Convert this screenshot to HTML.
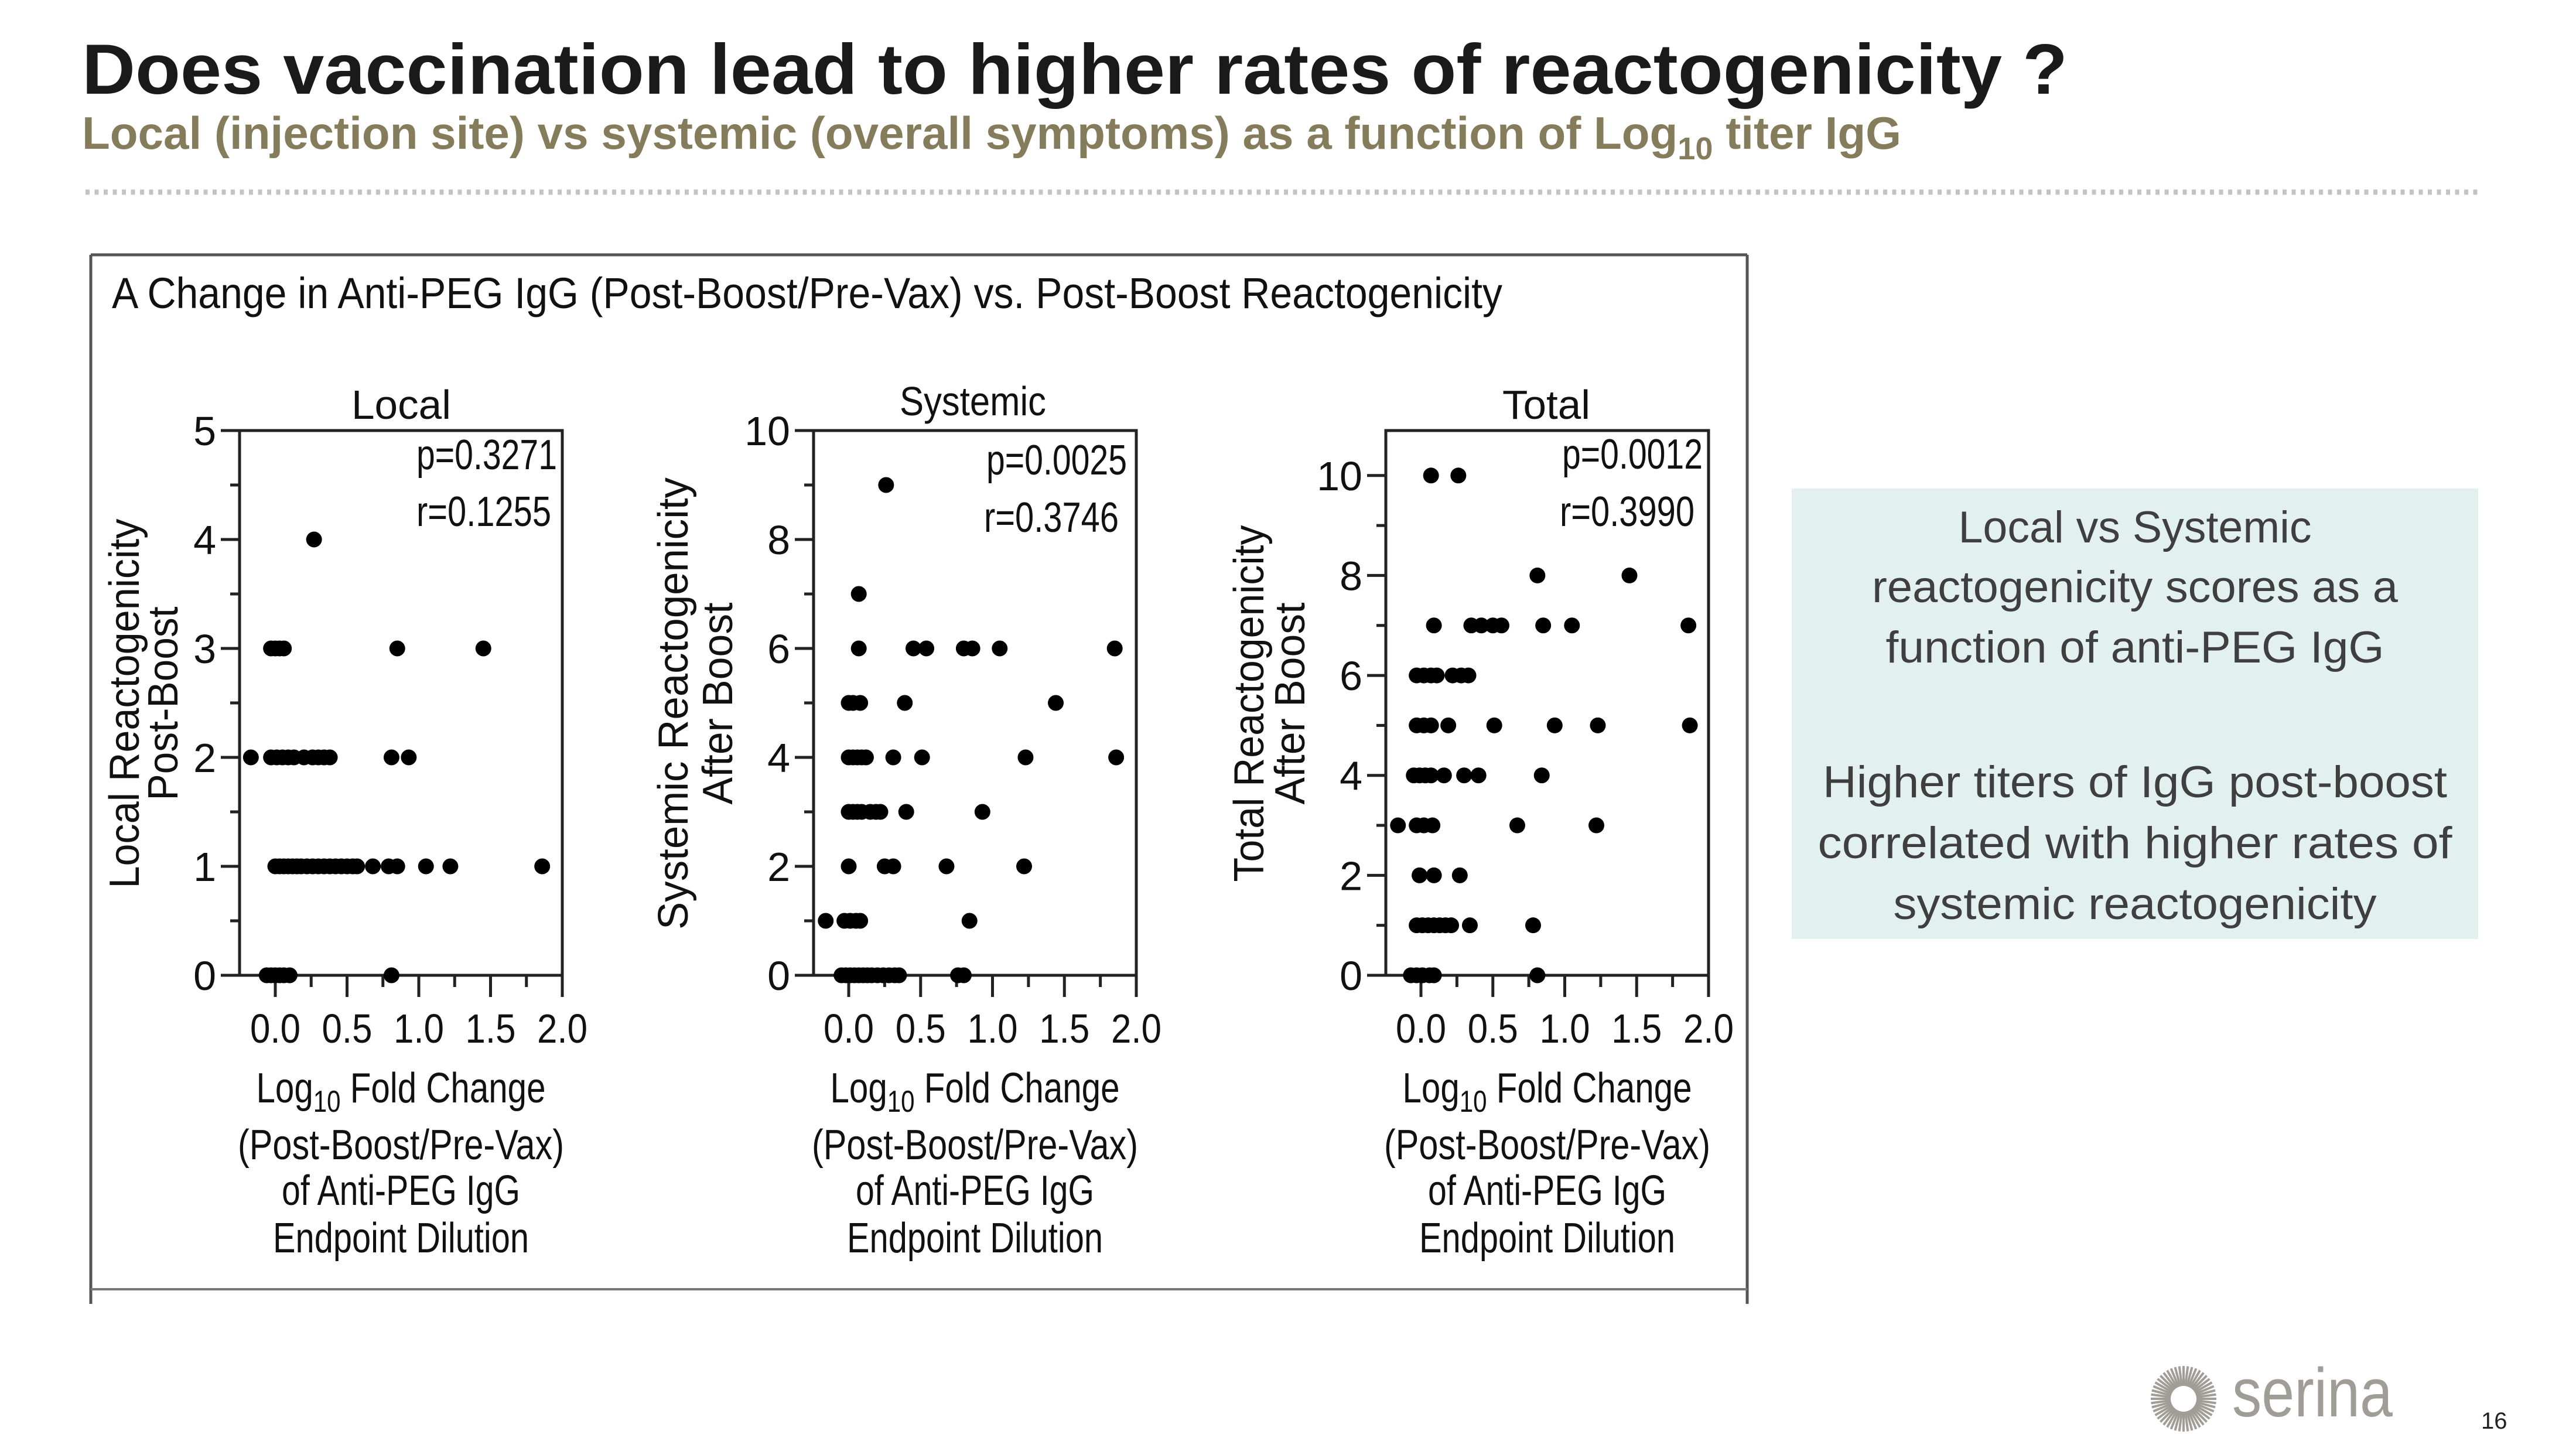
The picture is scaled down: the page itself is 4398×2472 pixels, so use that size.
<!DOCTYPE html>
<html><head><meta charset="utf-8"><style>
html,body{margin:0;padding:0;background:#fff;}
svg{display:block;}
text{font-family:"Liberation Sans",sans-serif;}
</style></head><body>
<svg id="slide" width="4398" height="2472" viewBox="0 0 4398 2472" xmlns="http://www.w3.org/2000/svg">
<text x="140" y="160" font-size="122" font-weight="bold" fill="#1a1a1a" textLength="3390" lengthAdjust="spacingAndGlyphs">Does vaccination lead to higher rates of reactogenicity ?</text>
<text x="140" y="254" font-size="78" font-weight="bold" fill="#857c5c" textLength="3106" lengthAdjust="spacingAndGlyphs">Local (injection site) vs systemic (overall symptoms) as a function of Log<tspan font-size="54" dy="18">10</tspan><tspan dy="-18"> titer IgG</tspan></text>
<line x1="146" y1="328" x2="4231" y2="328" stroke="#c4c4c4" stroke-width="9" stroke-dasharray="7 8.5"/>
<g stroke="#555" stroke-width="5" fill="none">
<line x1="155" y1="435" x2="2983" y2="435"/>
<line x1="155" y1="435" x2="155" y2="2226"/>
<line x1="2983" y1="435" x2="2983" y2="2226"/>
<line x1="155" y1="2201" x2="2983" y2="2201" stroke="#777" stroke-width="4"/>
</g>
<text x="191" y="526" font-size="74" fill="#111" textLength="2374" lengthAdjust="spacingAndGlyphs">A  Change in Anti-PEG IgG (Post-Boost/Pre-Vax) vs. Post-Boost Reactogenicity</text>
<g id="charts"></g>
<rect x="3059" y="834" width="1172" height="769" fill="#e2f0ef"/>
<g font-size="76" fill="#3f3f3f" text-anchor="middle">
<text x="3645" y="926" textLength="603" lengthAdjust="spacingAndGlyphs">Local vs Systemic</text>
<text x="3645" y="1028" textLength="898" lengthAdjust="spacingAndGlyphs">reactogenicity scores as a</text>
<text x="3645" y="1131" textLength="851" lengthAdjust="spacingAndGlyphs">function of anti-PEG IgG</text>
<text x="3645" y="1361" textLength="1066" lengthAdjust="spacingAndGlyphs">Higher titers of IgG post-boost</text>
<text x="3645" y="1465" textLength="1083" lengthAdjust="spacingAndGlyphs">correlated with higher rates of</text>
<text x="3645" y="1569" textLength="825" lengthAdjust="spacingAndGlyphs">systemic reactogenicity</text>
</g>
<g id="logo-sun"></g>
<text x="3811" y="2418" font-size="118" fill="#a09c96" textLength="274" lengthAdjust="spacingAndGlyphs">serina</text>
<text x="4236" y="2439" font-size="40" fill="#222">16</text>
</svg>
<script>
// ---- data ----
const xTickLabels = ["0.0","0.5","1.0","1.5","2.0"];
const xTickValues = [0,0.5,1,1.5,2];
const localX = [0.27,-0.03,0,0.03,0.06,0.85,1.45,-0.17,-0.03,0.01,0.05,0.09,0.13,0.2,0.26,0.3,0.34,0.38,0.81,0.93,0,0.03,0.06,0.09,0.12,0.15,0.18,0.22,0.26,0.3,0.34,0.38,0.42,0.46,0.5,0.54,0.57,0.68,0.79,0.85,1.05,1.22,1.86,-0.06,-0.03,0,0.03,0.06,0.1,0.81];
const localY = [4,3,3,3,3,3,3,2,2,2,2,2,2,2,2,2,2,2,2,2,1,1,1,1,1,1,1,1,1,1,1,1,1,1,1,1,1,1,1,1,1,1,1,0,0,0,0,0,0,0];
const localYTicks = [0,1,2,3,4,5];
const systemicX = [0.26,0.07,0.07,0.45,0.54,0.8,0.86,1.05,1.85,0,0.03,0.08,0.39,1.44,0,0.03,0.06,0.09,0.12,0.31,0.51,1.23,1.86,0,0.03,0.06,0.09,0.15,0.19,0.22,0.4,0.93,0,0.25,0.31,0.68,1.22,-0.16,-0.03,0.01,0.05,0.08,0.84,-0.05,-0.02,0.01,0.04,0.07,0.1,0.13,0.16,0.2,0.24,0.28,0.32,0.35,0.76,0.8];
const systemicY = [9,7,6,6,6,6,6,6,6,5,5,5,5,5,4,4,4,4,4,4,4,4,4,3,3,3,3,3,3,3,3,3,2,2,2,2,2,1,1,1,1,1,1,0,0,0,0,0,0,0,0,0,0,0,0,0,0,0];
const systemicYTicks = [0,2,4,6,8,10];
const totalX = [0.07,0.26,0.81,1.45,0.09,0.35,0.42,0.5,0.56,0.85,1.05,1.86,-0.03,0.02,0.07,0.11,0.22,0.28,0.33,-0.03,0.02,0.07,0.19,0.51,0.93,1.23,1.87,-0.05,-0.01,0.03,0.07,0.16,0.3,0.4,0.84,-0.16,-0.03,0.02,0.08,0.67,1.22,-0.01,0.09,0.27,-0.03,0.01,0.05,0.09,0.13,0.17,0.21,0.34,0.78,-0.07,-0.03,0.01,0.06,0.09,0.81];
const totalY = [10,10,8,8,7,7,7,7,7,7,7,7,6,6,6,6,6,6,6,5,5,5,5,5,5,5,5,4,4,4,4,4,4,4,4,3,3,3,3,3,3,2,2,2,1,1,1,1,1,1,1,1,1,0,0,0,0,0,0];
const totalYTicks = [0,2,4,6,8,10];

const NS = "http://www.w3.org/2000/svg";
function mk(tag, attrs, parent){
  const e = document.createElementNS(NS, tag);
  for (const k in attrs) e.setAttribute(k, attrs[k]);
  parent.appendChild(e);
  return e;
}
const charts = document.getElementById('charts');

const panels = [
  {key:'local', title:'Local', tx:685, ty:715, tw:170, boxL:409, boxR:960, x0:470, xs:245, ymax:5, minorStep:0.5,
   xs_:localX, ys_:localY, yt:localYTicks, p:'p=0.3271', r:'r=0.1255', pY:801, rY:898, pR:951, rR:941,
   ylab:[['Local Reactogenicity',213,631],['Post-Boost',279,331]]},
  {key:'systemic', title:'Systemic', tx:1661, ty:709, tw:250, boxL:1389, boxR:1940, x0:1449, xs:245.5, ymax:10, minorStep:1,
   xs_:systemicX, ys_:systemicY, yt:systemicYTicks, p:'p=0.0025', r:'r=0.3746', pY:810, rY:908, pR:1924, rR:1910,
   ylab:[['Systemic Reactogenicity',1150,772],['After Boost',1226,345]]},
  {key:'total', title:'Total', tx:2640, ty:715, tw:150, boxL:2366, boxR:2917, x0:2426, xs:245.5, ymax:10.9, minorStep:1,
   xs_:totalX, ys_:totalY, yt:totalYTicks, p:'p=0.0012', r:'r=0.3990', pY:800, rY:898, pR:2907, rR:2893,
   ylab:[['Total Reactogenicity',2133,609],['After Boost',2203,345]]}
];
const TOP = 735, BOT = 1665;

panels.forEach(pn => {
  const g = mk('g', {}, charts);
  
  
  const X = v => pn.x0 + v * pn.xs;
  const Y = v => BOT - v * (BOT - TOP) / pn.ymax;

  const t = mk('text', {x:pn.tx, y:pn.ty, 'font-size':70, 'text-anchor':'middle', fill:'#111', textLength:pn.tw, lengthAdjust:'spacingAndGlyphs'}, g);
  t.textContent = pn.title;
  
  

  const box = mk('rect', {x:pn.boxL, y:TOP, width:pn.boxR-pn.boxL, height:BOT-TOP, fill:'none', stroke:'#222', 'stroke-width':5}, g);
  
  

  const yMaxTick = pn.yt[pn.yt.length-1];
  for (let v = 0; v <= yMaxTick + 1e-9; v += pn.minorStep) {
    const major = pn.yt.some(m => Math.abs(m - v) < 1e-9);
    const tk = mk('line', {x1:pn.boxL - (major?32:16), y1:Y(v), x2:pn.boxL, y2:Y(v), stroke:'#222', 'stroke-width':5}, g);
    
    
  }
  pn.yt.forEach(v => {
    const lb = mk('text', {x:pn.boxL - 40, y:Y(v) + 25, 'font-size':70, 'text-anchor':'end', fill:'#111'}, g);
    lb.textContent = String(v);
    
    
  });
  for (let v = 0; v <= 2 + 1e-9; v += 0.25) {
    const major = xTickValues.some(m => Math.abs(m - v) < 1e-9);
    const tk = mk('line', {x1:X(v), y1:BOT, x2:X(v), y2:BOT + (major?37:20), stroke:'#222', 'stroke-width':5}, g);
    
    
  }
  xTickValues.forEach((v, i) => {
    const lb = mk('text', {x:X(v), y:1780, 'font-size':70, 'text-anchor':'middle', fill:'#111', textLength:86, lengthAdjust:'spacingAndGlyphs'}, g);
    lb.textContent = xTickLabels[i];
    
    
  });
  const pt = mk('text', {x:pn.pR, y:pn.pY, 'font-size':72, 'text-anchor':'end', fill:'#111', textLength:240, lengthAdjust:'spacingAndGlyphs'}, g);
  pt.textContent = pn.p;
  
  
  const rt = mk('text', {x:pn.rR, y:pn.rY, 'font-size':72, 'text-anchor':'end', fill:'#111', textLength:230, lengthAdjust:'spacingAndGlyphs'}, g);
  rt.textContent = pn.r;
  
  

  const cx = (pn.boxL + pn.boxR) / 2;
  const xl = mk('text', {x:cx, y:1882, 'font-size':72, 'text-anchor':'middle', fill:'#111', textLength:494, lengthAdjust:'spacingAndGlyphs'}, g);
  xl.innerHTML = 'Log<tspan font-size="52" dy="16">10</tspan><tspan dy="-16"> Fold Change</tspan>';
  
  
  [['(Post-Boost/Pre-Vax)',1979,557],['of Anti-PEG IgG',2057,407],['Endpoint Dilution',2138,437]].forEach(l => {
    const e = mk('text', {x:cx, y:l[1], 'font-size':72, 'text-anchor':'middle', fill:'#111', textLength:l[2], lengthAdjust:'spacingAndGlyphs'}, g);
    e.textContent = l[0];
    
    
  });
  pn.ylab.forEach(l => {
    const e = mk('text', {x:0, y:0, 'font-size':72, 'text-anchor':'middle', 'dominant-baseline':'central', fill:'#111', textLength:l[2], lengthAdjust:'spacingAndGlyphs', transform:`translate(${l[1]},1201) rotate(-90)`}, g);
    e.textContent = l[0];
    
    
  });
  pn.xs_.forEach((xv, i) => {
    const c = mk('circle', {cx:X(xv), cy:Y(pn.ys_[i]), r:13.5, fill:'#000'}, g);
    
    
  });
});

const sun = document.getElementById('logo-sun');
for (let k = 0; k < 48; k++) {
  const a = k * Math.PI * 2 / 48;
  const l = mk('line', {x1:3728 + 22*Math.cos(a), y1:2388 + 22*Math.sin(a), x2:3728 + 56*Math.cos(a), y2:2388 + 56*Math.sin(a), stroke:'#a09c96', 'stroke-width':4}, sun);
  
  
}
</script>
</body></html>
